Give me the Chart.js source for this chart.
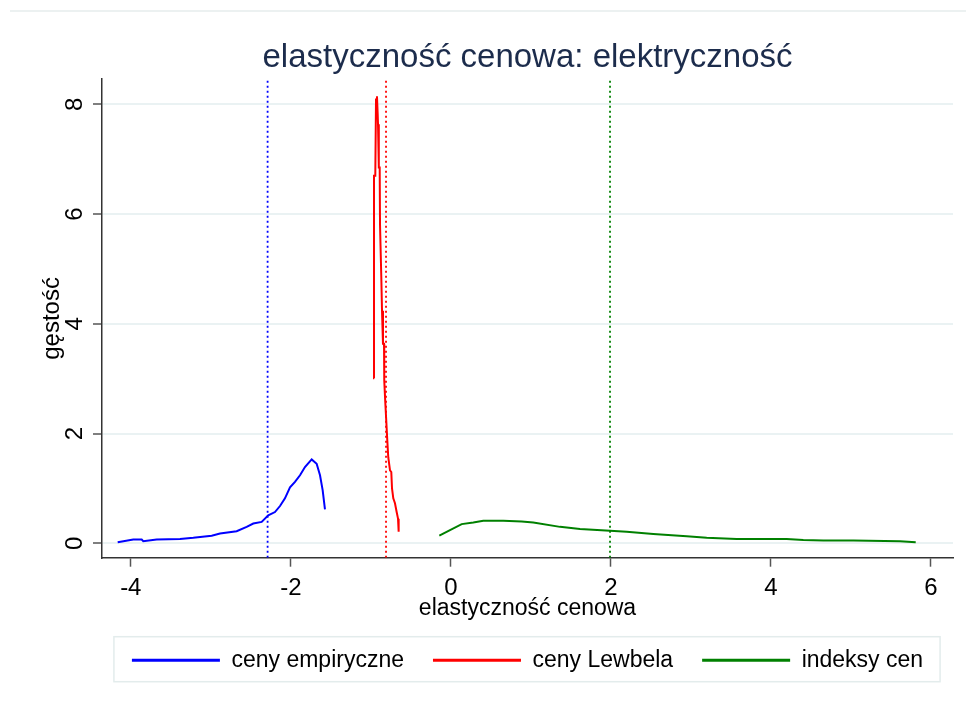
<!DOCTYPE html>
<html>
<head>
<meta charset="utf-8">
<script src="https://cdn.jsdelivr.net/npm/chart.js@4.4.1/dist/chart.umd.min.js"></script>
<style>
  body { margin: 0; background: #fff; }
  #wrap { width: 966px; height: 709px; }
</style>
</head>
<body>
<div id="wrap"><canvas id="densityChart" width="966" height="709"></canvas></div>
<script>
// kernel densities
const empX = [-4.164, -3.969, -3.864, -3.844, -3.677, -3.385, -3.219, -2.989, -2.885, -2.677, -2.552, -2.469, -2.364,
              -2.282, -2.198, -2.135, -2.073, -2.010, -1.948, -1.885, -1.823, -1.739, -1.677, -1.635, -1.602, -1.573];
const empY = [0.02, 0.07, 0.07, 0.04, 0.07, 0.08, 0.10, 0.14, 0.18, 0.22, 0.30, 0.36, 0.39,
              0.51, 0.57, 0.68, 0.82, 1.02, 1.12, 1.24, 1.39, 1.53, 1.45, 1.24, 0.97, 0.62];

const lewX = [-0.957, -0.960, -0.944, -0.935, -0.923, -0.914, -0.910, -0.902, -0.898, -0.889, -0.885, -0.873, -0.869,
              -0.860, -0.848, -0.835, -0.832, -0.819, -0.807, -0.794, -0.782, -0.760, -0.744, -0.735, -0.719, -0.698,
              -0.677, -0.660, -0.652];
const lewY = [3.01, 6.70, 6.70, 8.09, 8.15, 7.82, 7.64, 7.64, 6.85, 6.85, 5.81, 5.81, 4.86,
              4.24, 3.64, 3.64, 2.97, 2.57, 2.24, 1.88, 1.57, 1.33, 1.30, 1.00, 0.82, 0.73,
              0.57, 0.45, 0.21];

const idxX = [-0.144, -0.010, 0.136, 0.281, 0.406, 0.656, 0.886, 1.031, 1.365, 1.615, 1.990, 2.198, 2.531,
              2.948, 3.198, 3.573, 4.198, 4.406, 4.656, 5.031, 5.615, 5.811];
const idxY = [0.14, 0.24, 0.35, 0.38, 0.41, 0.41, 0.40, 0.38, 0.30, 0.26, 0.23, 0.21, 0.17,
              0.13, 0.10, 0.08, 0.08, 0.06, 0.05, 0.05, 0.04, 0.02];

// means (dotted vertical lines)
const meanX = [-2.29, -0.81, 1.99];

const seriesNames = ["ceny empiryczne", "ceny Lewbela", "indeksy cen"];
const seriesColors = ["#0000ff", "#ff0000", "#008000"];

const xTicks = [-4, -2, 0, 2, 4, 6];
const yTicks = [0, 2, 4, 6, 8];
const xRange = [-4.36, 6.277];
const yRange = [-0.262, 8.46];

const toPoints = (xs, ys) => xs.map((x, i) => ({ x: x, y: ys[i] }));

Chart.defaults.font.family = '"Liberation Sans", Arial, sans-serif';
Chart.defaults.color = "#000";

const curves = [toPoints(empX, empY), toPoints(lewX, lewY), toPoints(idxX, idxY)];
const datasets = curves.map((pts, i) => ({
    label: seriesNames[i],
    data: pts,
    borderColor: seriesColors[i],
    backgroundColor: seriesColors[i],
    borderWidth: 2,
    pointRadius: 0,
    tension: 0
}));
meanX.forEach((m, i) => {
    datasets.push({
        label: "mean " + seriesNames[i],
        data: [{ x: m, y: yRange[0] }, { x: m, y: yRange[1] }],
        borderColor: seriesColors[i],
        borderWidth: 1.8,
        borderDash: [2, 3],
        pointRadius: 0
    });
});

// white page, thin top rule and legend frame
const decor = {
    id: "decor",
    beforeDraw(chart) {
        const c = chart.ctx;
        c.save();
        c.fillStyle = "#fff";
        c.fillRect(0, 0, chart.width, chart.height);
        c.strokeStyle = "#e6eded";
        c.lineWidth = 1.5;
        c.beginPath();
        c.moveTo(10, 11);
        c.lineTo(chart.width, 11);
        c.stroke();
        c.restore();
    },
    afterDraw(chart) {
        const hb = chart.legend.legendHitBoxes;
        if (!hb || !hb.length) return;
        const left = Math.min(...hb.map(h => h.left)) - 18;
        const right = Math.max(...hb.map(h => h.left + h.width)) + 17;
        const top = hb[0].top - 12;
        const bottom = hb[0].top + hb[0].height + 10;
        const c = chart.ctx;
        c.save();
        c.strokeStyle = "#e3ecec";
        c.lineWidth = 1.5;
        c.strokeRect(left, top, right - left, bottom - top);
        c.restore();
    }
};

new Chart(document.getElementById("densityChart"), {
    type: "line",
    data: { datasets: datasets },
    options: {
        responsive: false,
        animation: false,
        devicePixelRatio: 1,
        layout: { padding: { left: 0, right: 13, top: 0, bottom: 27.3 } },
        plugins: {
            title: {
                display: true,
                text: "elastyczność cenowa: elektryczność",
                color: "#1c2c4c",
                fullSize: false,
                font: { size: 33, weight: "normal" },
                padding: { top: 38, bottom: 1.6 }
            },
            legend: {
                position: "bottom",
                fullSize: false,
                labels: {
                    boxWidth: 88,
                    boxHeight: 3,
                    padding: 29,
                    color: "#000",
                    font: { size: 23 },
                    generateLabels: (chart) =>
                        Chart.defaults.plugins.legend.labels.generateLabels(chart)
                            .filter(it => it.datasetIndex < 3)
                            .map(it => Object.assign(it, { lineWidth: 0, fillStyle: it.strokeStyle }))
                }
            },
            tooltip: { enabled: false }
        },
        scales: {
            x: {
                type: "linear",
                min: xRange[0],
                max: xRange[1],
                afterBuildTicks: (axis) => { axis.ticks = xTicks.map(v => ({ value: v })); },
                afterFit: (axis) => { axis.height = 62; },
                grid: { drawOnChartArea: false, drawTicks: true, tickLength: 9, tickColor: "#555", tickWidth: 1.5 },
                border: { display: true, color: "#333", width: 1.5 },
                ticks: { font: { size: 24 }, color: "#000", padding: 7, maxRotation: 0 },
                title: { display: true, text: "elastyczność cenowa", font: { size: 23 }, color: "#000", padding: { top: 0, bottom: -3.1 } }
            },
            y: {
                type: "linear",
                min: yRange[0],
                max: yRange[1],
                afterBuildTicks: (axis) => { axis.ticks = yTicks.map(v => ({ value: v })); },
                afterFit: (axis) => { axis.width = 102; },
                grid: { color: "#eaf2f3", lineWidth: 2, drawTicks: true, tickLength: 9, tickColor: "#555", tickWidth: 1.5 },
                border: { display: true, color: "#333", width: 1.5 },
                ticks: { font: { size: 24 }, color: "#000", padding: 11, minRotation: 90, maxRotation: 90, crossAlign: "center" },
                title: { display: true, text: "gęstość", font: { size: 24 }, color: "#000", padding: { top: 37.6, bottom: 0 } }
            }
        }
    },
    plugins: [decor]
});
</script>
</body>
</html>
